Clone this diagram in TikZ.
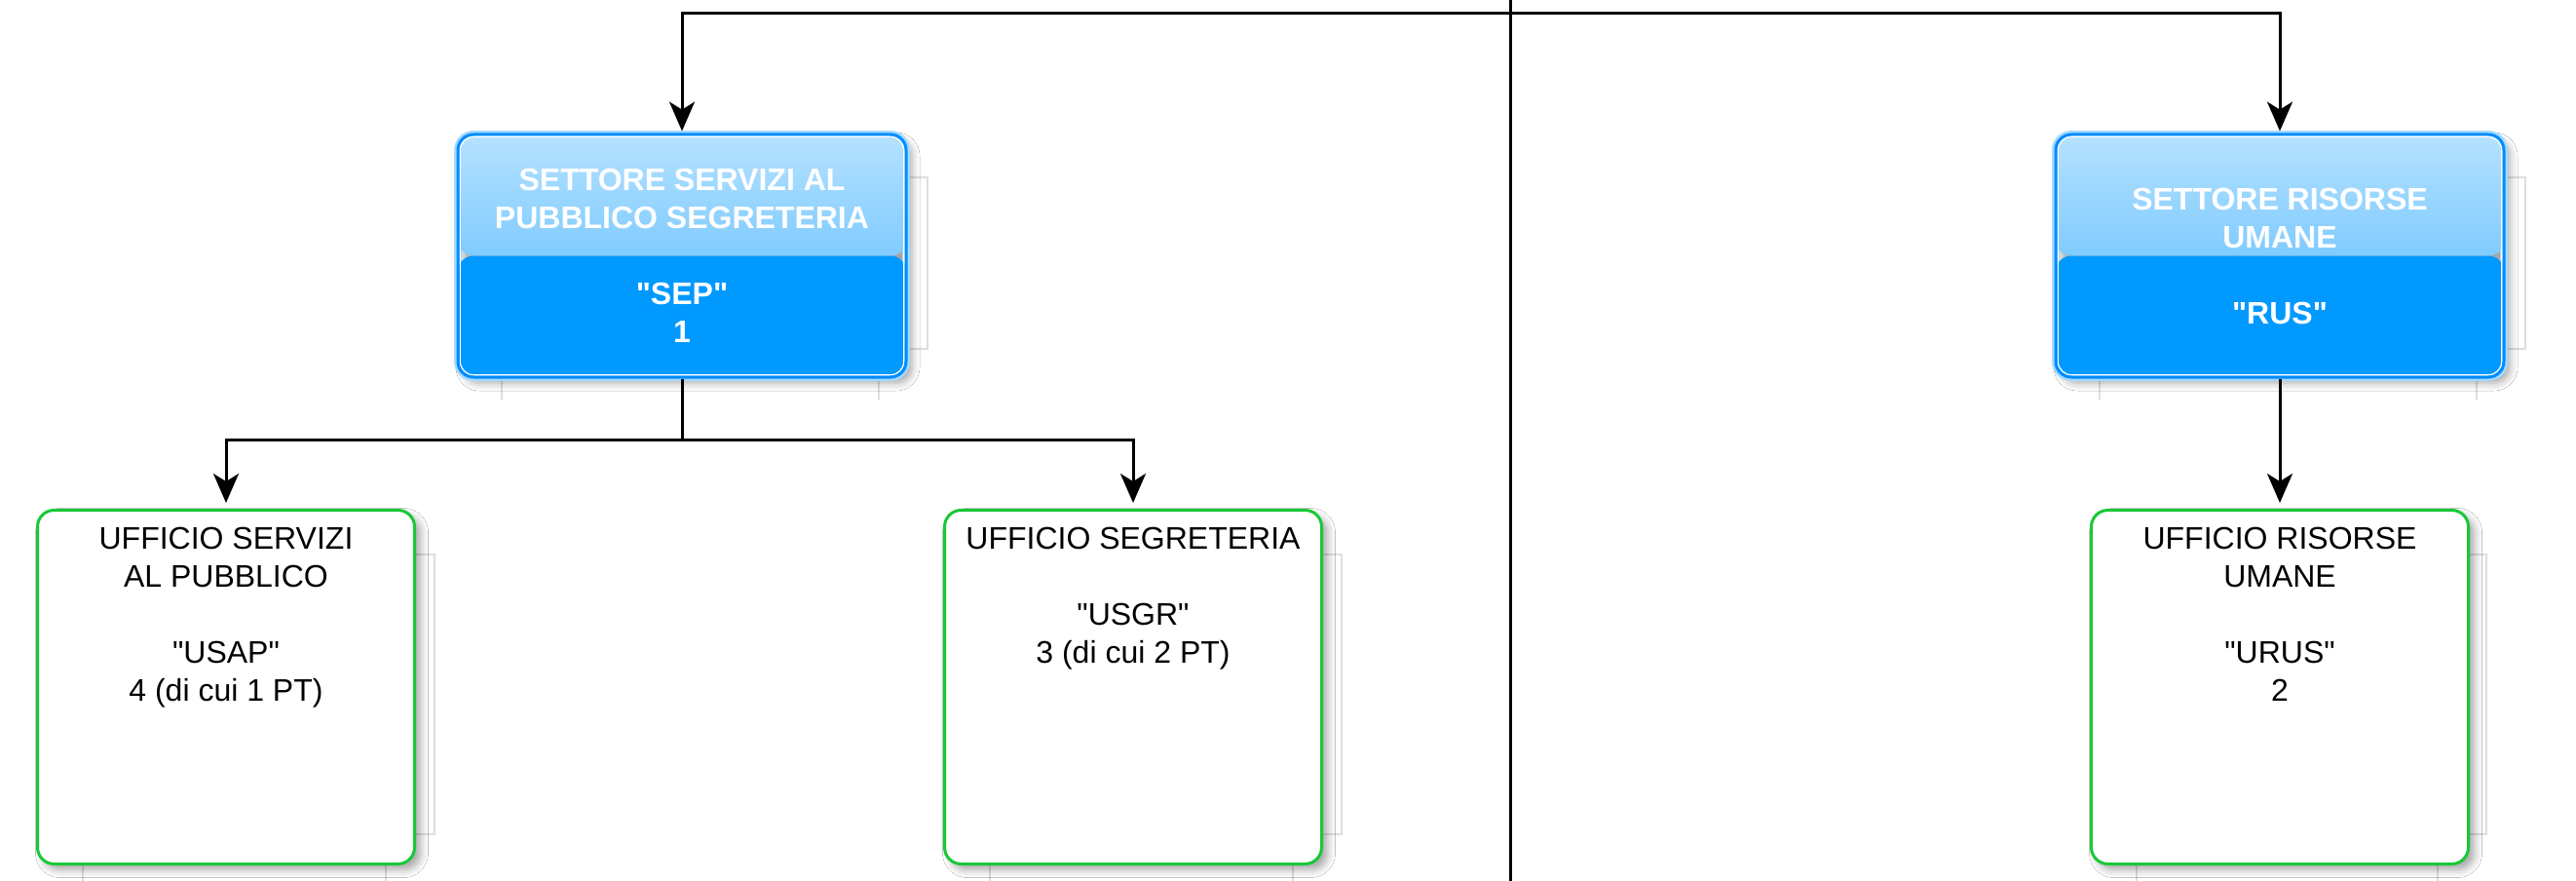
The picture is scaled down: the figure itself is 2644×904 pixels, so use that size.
\documentclass[tikz,border=0pt]{standalone}
\usepackage{fontspec}
\setmainfont{Liberation Sans}[Ligatures=TeXOff]
\usetikzlibrary{arrows.meta,shadows.blur}
\definecolor{sblue}{RGB}{0,153,255}
\definecolor{sbluetop}{RGB}{182,226,255}
\definecolor{sbluemid}{RGB}{74,180,255}
\definecolor{sborder}{RGB}{0,140,255}
\definecolor{sglow}{RGB}{165,218,255}
\definecolor{ugreen}{RGB}{25,200,55}
\definecolor{ghostc}{RGB}{222,222,222}
\newcommand\ghostbox[5]{%
  \draw[ghostline] (#2,{#3+47}) -- ({#2+19},{#3+47}) -- ({#2+19},{#4-32}) -- (#2,{#4-32});
  \draw[ghostline] ({#1+48},#4) -- ({#1+48},#5);
  \draw[ghostline] ({#2-31},#4) -- ({#2-31},#5);
}
\begin{document}
\begin{tikzpicture}[x=0.5pt,y=-0.5pt,
  arr/.style={-{Stealth[length=15pt,width=13pt,inset=4pt]}, line width=1.5pt, draw=black},
  conn/.style={line width=1.5pt, draw=black},
  ghostline/.style={draw=ghostc, line width=0.6pt},
  setbox/.style={rectangle, rounded corners=8pt, minimum width=230pt, minimum height=124.5pt,
    inner sep=0pt, align=center, text=white,
    font=\bfseries\fontsize{16pt}{19.5pt}\selectfont,
    blur shadow={shadow xshift=3pt, shadow yshift=-3pt, shadow blur radius=4pt, shadow opacity=35},
    preaction={draw=sglow, line width=4pt, fill=none},
    draw=sborder, line width=1.5pt,
    path picture={
      \shade[top color=sbluetop, bottom color=sbluemid]
        (path picture bounding box.north west) rectangle (path picture bounding box.east);
      \fill[sblue] (path picture bounding box.west) rectangle (path picture bounding box.south east);
      \draw[white, line width=0.7pt, rounded corners=7pt]
        ([shift={(1.1pt,-1.1pt)}]path picture bounding box.north west) rectangle
        ([shift={(-1.1pt,1.1pt)}]path picture bounding box.south east);
    }},
  ufbox/.style={rectangle, rounded corners=8.5pt, minimum width=193.5pt, minimum height=181.5pt,
    inner sep=0pt, draw=ugreen, line width=1.5pt, fill=white,
    blur shadow={shadow xshift=3pt, shadow yshift=-3pt, shadow blur radius=4pt, shadow opacity=35}},
  uftext/.style={anchor=north, inner sep=0pt, align=center, text=black,
    font=\fontsize{16pt}{19.5pt}\selectfont}]
\useasboundingbox[fill=white] (0,0) rectangle (2644,904);

% faint background lines
\ghostbox{467}{933}{135}{390}{410}
\ghostbox{2107}{2573}{135}{390}{410}
\ghostbox{37}{427}{522}{888}{904}
\ghostbox{968}{1358}{522}{888}{904}
\ghostbox{2145}{2533}{522}{888}{904}

% sector boxes
\node[setbox] (sep) at (700,262.5) {SETTORE SERVIZI AL\\PUBBLICO SEGRETERIA\\\strut\\"SEP"\\1};
\node[setbox] (rus) at (2340,262.5) {SETTORE RISORSE\\UMANE\\\strut\\"RUS"};

% office boxes
\node[ufbox] (usap) at (232,705) {};
\node[uftext] (usapt) at (232,541) {UFFICIO SERVIZI\\AL PUBBLICO\\\strut\\"USAP"\\4 (di cui 1 PT)};
\node[ufbox] (usgr) at (1163,705) {};
\node[uftext] (usgrt) at (1163,541) {UFFICIO SEGRETERIA\\\strut\\"USGR"\\3 (di cui 2 PT)};
\node[ufbox] (urus) at (2340,705) {};
\node[uftext] (urust) at (2340,541) {UFFICIO RISORSE\\UMANE\\\strut\\"URUS"\\2};

% connectors
\coordinate (vtop) at (1550,0);
\coordinate (vbot) at (1550,904);
\coordinate (root) at (1550,14);
\coordinate (sepj) at (700,451);
\draw[conn] (vtop) -- (vbot);
\draw[arr, shorten >=1pt] (root) -| (sep.north);
\draw[arr, shorten >=1pt] (root) -| (rus.north);
\draw[arr, shorten >=3pt] (sep.south) -- (sepj) -| (usap.north);
\draw[arr, shorten >=3pt] (sepj) -| (usgr.north);
\draw[arr, shorten >=3pt] (rus.south) -- (urus.north);
\end{tikzpicture}
\end{document}
